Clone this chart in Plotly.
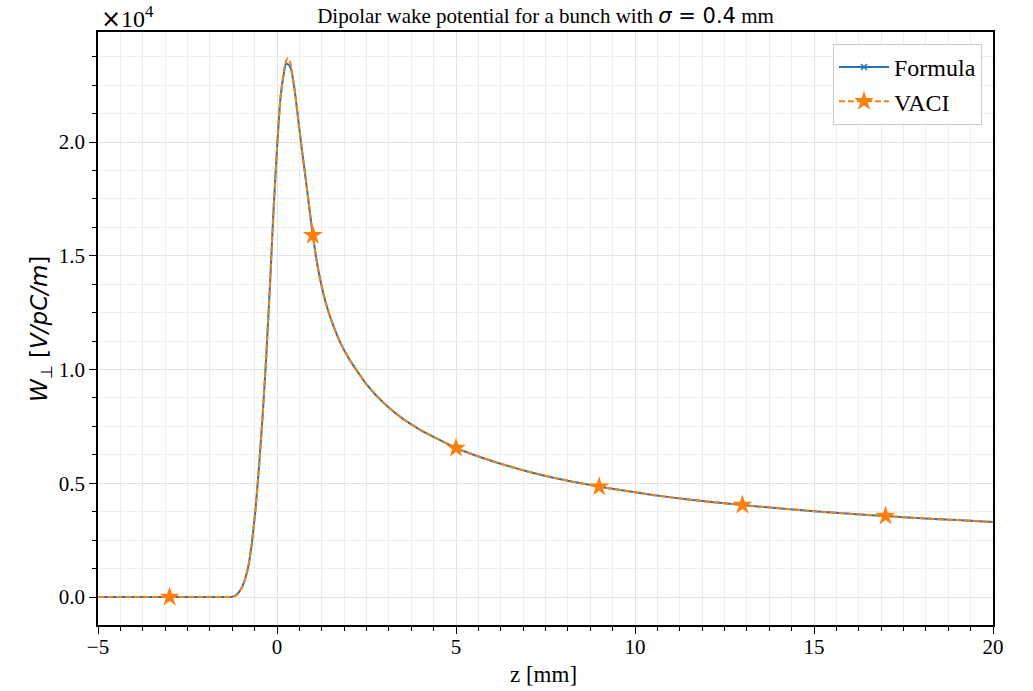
import plotly.graph_objects as go

# ---- data ----
z_mm = [-5.0, -4.0, -3.0, -2.0, -1.5, -1.3, -1.2, -1.1, -1.0, -0.9, -0.8, -0.7, -0.6, -0.5,
        -0.4, -0.3, -0.2, -0.1, 0.0, 0.1, 0.2, 0.25, 0.3, 0.35, 0.4, 0.5, 0.6, 0.7, 0.8, 0.9,
        1.0, 1.1, 1.2, 1.35, 1.5, 1.75, 2.0, 2.5, 3.0, 3.5, 4.0, 5.0, 6.0, 7.0, 8.0, 9.0,
        10.0, 11.0, 12.0, 13.0, 14.0, 15.0, 16.0, 17.0, 18.0, 19.0, 20.0]

w_formula = [0, 0, 0, 0, 0, 5, 30, 140, 360, 750, 1350, 2400, 3850, 5800,
             8000, 10600, 13600, 16900, 19700, 22000, 23100, 23450, 23420, 23350, 23150, 22200, 20900, 19600, 18400, 17150,
             15900, 14850, 14000, 13000, 12250, 11250, 10500, 9350, 8500, 7850, 7350, 6550, 5980, 5520, 5150, 4850,
             4600, 4380, 4200, 4040, 3900, 3770, 3660, 3560, 3460, 3380, 3300]

w_vaci = [0, 0, 0, 0, 0, 5, 30, 140, 360, 750, 1350, 2400, 3850, 5800,
          8000, 10600, 13600, 16900, 19700, 22000, 23200, 23550, 23680, 23600, 23250, 22200, 20900, 19600, 18400, 17150,
          15900, 14850, 14000, 13000, 12250, 11250, 10500, 9350, 8500, 7850, 7350, 6550, 5980, 5520, 5150, 4850,
          4600, 4380, 4200, 4040, 3900, 3770, 3660, 3560, 3460, 3380, 3300]

star_z = [-3.0, 1.0, 5.0, 9.0, 13.0, 17.0]   # VACI markers (markevery)

y_ticks = [0.0, 0.5, 1.0, 1.5, 2.0]          # x 1e4
x_ticks = [-5, 0, 5, 10, 15, 20]

SCALE = 1e4
BLUE = "#1f77b4"
ORANGE = "#ff7f0e"
SERIF = "Liberation Serif"

yf = [v / SCALE for v in w_formula]
yv = [v / SCALE for v in w_vaci]
sx = [z for z in z_mm if z in star_z]
sy = [yv[i] for i, z in enumerate(z_mm) if z in star_z]

fig = go.Figure()
fig.add_trace(go.Scatter(x=z_mm, y=yf, mode="lines",
                         line=dict(color=BLUE, width=2, shape="spline", smoothing=0.5),
                         showlegend=False, hoverinfo="skip"))
fig.add_trace(go.Scatter(x=sx, y=[yf[z_mm.index(z)] for z in sx], mode="markers",
                         marker=dict(symbol="x-thin", size=6, line=dict(color=BLUE, width=1.5)),
                         showlegend=False, hoverinfo="skip"))
fig.add_trace(go.Scatter(x=z_mm, y=yv, mode="lines",
                         line=dict(color=ORANGE, width=2, dash="6px,3px", shape="spline", smoothing=0.5),
                         showlegend=False, hoverinfo="skip"))
fig.add_trace(go.Scatter(x=sx, y=sy, mode="markers",
                         marker=dict(symbol="star", size=15, color=ORANGE, line=dict(width=0)),
                         showlegend=False, hoverinfo="skip"))
# legend entries
fig.add_trace(go.Scatter(x=[None], y=[None], mode="lines+markers", name="Formula",
                         line=dict(color=BLUE, width=2),
                         marker=dict(symbol="x-thin", size=6, line=dict(color=BLUE, width=1.5))))
fig.add_trace(go.Scatter(x=[None], y=[None], mode="lines+markers", name="VACI",
                         line=dict(color=ORANGE, width=2, dash="6px,3px"),
                         marker=dict(symbol="star", size=15, color=ORANGE, line=dict(width=0))))

axis_common = dict(showline=True, linecolor="black", linewidth=1.8, mirror=True,
                   ticks="outside", tickcolor="black", tickwidth=1.2, ticklen=7,
                   showgrid=True, gridcolor="#e3e3e3", gridwidth=1, zeroline=False,
                   tickfont=dict(family=SERIF, size=21, color="black"))

fig.update_xaxes(range=[-5, 20], tickmode="array", tickvals=x_ticks,
                 ticktext=[("\u2212" + str(-t)) if t < 0 else str(t) for t in x_ticks],
                 ticklabelstandoff=-5,
                 minor=dict(tickmode="linear", tick0=-5, dtick=0.625, ticks="outside", ticklen=4,
                            tickcolor="black", tickwidth=1, showgrid=True, gridcolor="#eeeeee", gridwidth=1),
                 **axis_common)
fig.update_yaxes(range=[-0.123, 2.4835], tickmode="array", tickvals=y_ticks,
                 ticktext=["%.1f" % t for t in y_ticks],
                 minor=dict(tickmode="linear", tick0=0, dtick=0.125, ticks="outside", ticklen=4,
                            tickcolor="black", tickwidth=1, showgrid=True, gridcolor="#eeeeee", gridwidth=1),
                 **axis_common)

# plot-area pixel box, used to place free texts
pl, pr, pt, pb = 98, 993, 32, 625
def px_x(px):
    return (px - pl) / (pr - pl)
def px_y(py):
    return (pb - py) / (pb - pt)

fig.update_layout(
    width=1033, height=691,
    margin=dict(l=98, r=40, t=32, b=66),
    paper_bgcolor="white", plot_bgcolor="white",
    title=dict(text="Dipolar wake potential for a bunch with "
                    "<span style='font-family:DejaVu Sans'><i>\u03c3</i> = 0.4</span> mm",
               x=0.5, xref="paper", xanchor="center", y=1 - 16 / 691, yref="container", yanchor="middle",
               font=dict(family=SERIF, size=21, color="black")),
    legend=dict(x=0.9877, y=0.9798, xanchor="right", yanchor="top",
                bgcolor="rgba(255,255,255,0.85)", bordercolor="#cccccc", borderwidth=1,
                font=dict(family=SERIF, size=24, color="black"), itemwidth=50,
                tracegroupgap=4),
    annotations=[
        dict(text="<span style='font-family:DejaVu Sans'>\u00d7</span>10<sup>4</sup>",
             x=px_x(99), y=px_y(17), xref="paper", yref="paper",
             xanchor="left", yanchor="middle", showarrow=False,
             font=dict(family=SERIF, size=24, color="black")),
        dict(text="<i>W</i><sub>\u22a5</sub> [<i>V/pC/m</i>]",
             x=px_x(41), y=px_y(329), xref="paper", yref="paper",
             xanchor="center", yanchor="middle", showarrow=False, textangle=-90,
             font=dict(family="DejaVu Sans", size=23, color="black")),
        dict(text="z [mm]", x=px_x(543), y=px_y(674), xref="paper", yref="paper",
             xanchor="center", yanchor="middle", showarrow=False,
             font=dict(family=SERIF, size=23, color="black")),
    ],
)

fig.write_html("out.html")
